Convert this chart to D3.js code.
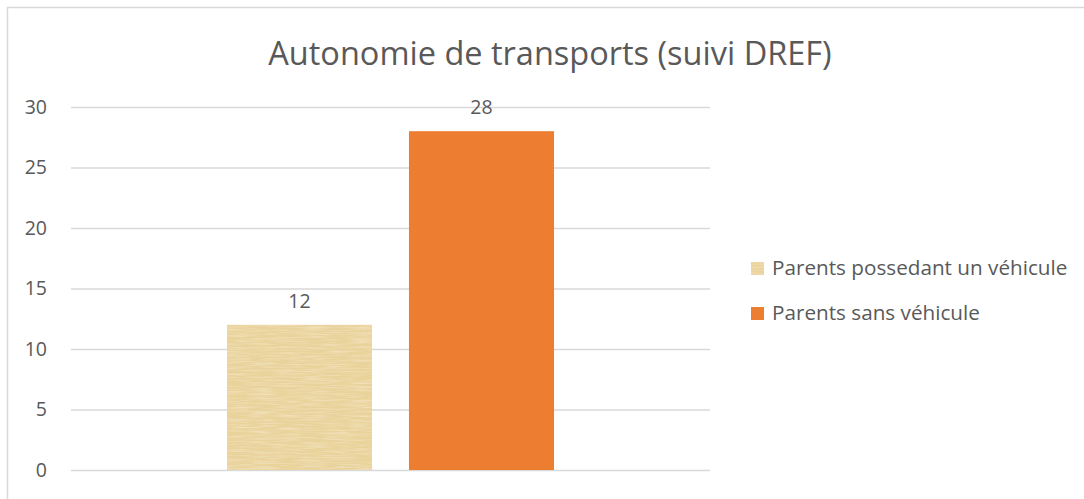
<!DOCTYPE html>
<html>
<head>
<meta charset="utf-8">
<script src="https://cdn.jsdelivr.net/npm/d3@7.9.0/dist/d3.min.js"></script>
<style>
  body { margin: 0; background: #fff; }
  text { font-family: "Open Sans", "Noto Sans", sans-serif; fill: #595959; }
</style>
</head>
<body>
<svg id="chart" width="1084" height="499"></svg>
<script>
const title = 'Autonomie de transports (suivi DREF)';
const series = ['Parents possedant un véhicule', 'Parents sans véhicule'];
const values = [12, 28];
const yTicks = [0, 5, 10, 15, 20, 25, 30];

const svg = d3.select('#chart');
const margin = { left: 71, right: 374, top: 107, bottom: 29 };
const width = 1084, height = 499;

// papyrus-ish texture for the first series: two streaky noise layers
const defs = svg.append('defs');
const filter = defs.append('filter').attr('id', 'grain')
  .attr('x', 0).attr('y', 0).attr('width', 1).attr('height', 1);
filter.append('feTurbulence').attr('type', 'fractalNoise')
  .attr('baseFrequency', '0.7 0.04').attr('numOctaves', 2).attr('seed', 3).attr('result', 'n1');
filter.append('feTurbulence').attr('type', 'fractalNoise')
  .attr('baseFrequency', '0.04 0.7').attr('numOctaves', 2).attr('seed', 8).attr('result', 'n2');
filter.append('feColorMatrix').attr('in', 'n1').attr('type', 'matrix')
  .attr('values', '0 0 0 0 0.78  0 0 0 0 0.64  0 0 0 0 0.36  0.9 0 0 0 -0.38').attr('result', 'c1');
filter.append('feColorMatrix').attr('in', 'n2').attr('type', 'matrix')
  .attr('values', '0 0 0 0 0.98  0 0 0 0 0.92  0 0 0 0 0.76  0.9 0 0 0 -0.38').attr('result', 'c2');
filter.append('feComposite').attr('in', 'c1').attr('in2', 'SourceGraphic').attr('operator', 'atop').attr('result', 'a');
filter.append('feComposite').attr('in', 'c2').attr('in2', 'a').attr('operator', 'atop');

const colors = ['#EAD39B', '#ED7D31'];

svg.append('rect')
  .attr('x', 7.5).attr('y', 7.5).attr('width', 1090).attr('height', 500)
  .attr('fill', '#fff').attr('stroke', '#d9d9d9').attr('stroke-width', 1.5);

const y = d3.scaleLinear().domain([0, 30]).range([height - margin.bottom, margin.top]);
const x = d3.scaleBand().domain(series)
  .range([margin.left, width - margin.right]).paddingInner(0.203).paddingOuter(0.857);

svg.append('text').attr('x', 550).attr('y', 65).attr('text-anchor', 'middle')
  .style('font-size', '32.5px').text(title);

const yAxis = svg.append('g').attr('transform', `translate(${margin.left},0)`)
  .call(d3.axisLeft(y).tickValues(yTicks)
    .tickSize(-(width - margin.left - margin.right)).tickPadding(24));
yAxis.select('.domain').remove();
yAxis.selectAll('.tick line').attr('stroke', '#d9d9d9').attr('stroke-width', 1.5);
yAxis.selectAll('.tick text').style('font-size', '19.5px').attr('fill', '#595959')
  .attr('font-family', '"Open Sans", sans-serif');

const bars = svg.append('g').selectAll('g').data(values).join('g');
bars.append('rect')
  .attr('x', (d, i) => x(series[i]))
  .attr('y', d => y(d))
  .attr('width', x.bandwidth())
  .attr('height', d => y(0) - y(d))
  .attr('fill', (d, i) => colors[i])
  .attr('filter', (d, i) => i === 0 ? 'url(#grain)' : null);
bars.append('text')
  .attr('x', (d, i) => x(series[i]) + x.bandwidth() / 2)
  .attr('y', d => y(d) - 17)
  .attr('text-anchor', 'middle').style('font-size', '19.5px')
  .text(d => d);

const legend = svg.append('g').selectAll('g').data(series).join('g')
  .attr('transform', (d, i) => `translate(751,${262 + i * 45})`);
legend.append('rect').attr('width', 13).attr('height', 13)
  .attr('fill', (d, i) => colors[i])
  .attr('filter', (d, i) => i === 0 ? 'url(#grain)' : null);
legend.append('text').attr('x', 21).attr('y', 13).style('font-size', '20.7px').text(d => d);
</script>
</body>
</html>
